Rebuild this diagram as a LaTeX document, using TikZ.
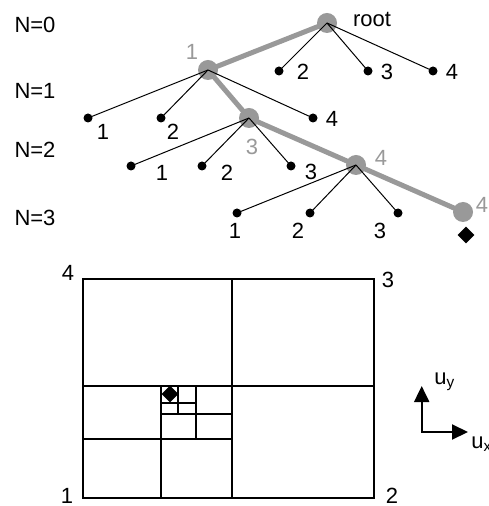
\documentclass[tikz,border=0pt]{standalone}
\usepackage{fontspec}
\setmainfont{Liberation Sans}
\usetikzlibrary{arrows.meta, positioning, shapes.geometric}
\definecolor{treegray}{RGB}{153,153,153}

\begin{document}
\begin{tikzpicture}[
  x=0.5pt, y=-0.5pt,
  lbl/.style={font=\fontsize{11}{13}\selectfont, inner sep=0pt},
  glbl/.style={lbl, text=treegray},
  leaf/.style={circle, fill=black, minimum size=4.5pt, inner sep=0pt},
  hub/.style={circle, fill=treegray, minimum size=10pt, inner sep=0pt},
  goal/.style={diamond, fill=black, minimum width=8.5pt, minimum height=8.5pt, inner sep=0pt},
  edge/.style={line width=0.5pt},
  route/.style={line width=2.5pt, treegray},
  cell/.style={line width=1pt},
  axis/.style={{Triangle[length=8pt, width=7.5pt]}-{Triangle[length=8pt, width=7.5pt]}, line width=1pt}
]
\useasboundingbox (0,0) rectangle (488,506);

% levels
\node[lbl] (lv0) at (35,25) {N=0};
\node[lbl] (lv1) at (35,91) {N=1};
\node[lbl] (lv2) at (35,150) {N=2};
\node[lbl] (lv3) at (35,218) {N=3};

% tree nodes
\node[hub] (root) at (327,23) {};
\node[hub] (n1) at (208,70) {};
\node[hub] (n13) at (249,118) {};
\node[hub] (n134) at (356,165) {};
\node[hub] (n1344) at (463,212) {};
\node[leaf] (r2) at (279,71) {};
\node[leaf] (r3) at (368,71) {};
\node[leaf] (r4) at (433,71) {};
\node[leaf] (a1) at (88,118) {};
\node[leaf] (a2) at (161,118) {};
\node[leaf] (a4) at (313,118) {};
\node[leaf] (b1) at (131,166) {};
\node[leaf] (b2) at (202,166) {};
\node[leaf] (b3) at (291,166) {};
\node[leaf] (c1) at (237,213) {};
\node[leaf] (c2) at (310,213) {};
\node[leaf] (c3) at (398,213) {};
\node[goal] (hit) at (466,235) {};

% tree labels
\node[lbl] (troot) at (372,20) {root};
\node[glbl] (tn1) at (192,52) {1};
\node[glbl] (tn13) at (252,147) {3};
\node[glbl] (tn134) at (381,158) {4};
\node[glbl] (tn1344) at (482,205) {4};
\node[lbl] (tr2) at (303,72) {2};
\node[lbl] (tr3) at (387,72) {3};
\node[lbl] (tr4) at (452,72) {4};
\node[lbl] (ta1) at (103,132) {1};
\node[lbl] (ta2) at (173,132) {2};
\node[lbl] (ta4) at (332,119) {4};
\node[lbl] (tb1) at (162,173) {1};
\node[lbl] (tb2) at (227,173) {2};
\node[lbl] (tb3) at (311,172) {3};
\node[lbl] (tc1) at (235,231) {1};
\node[lbl] (tc2) at (298,231) {2};
\node[lbl] (tc3) at (380,231) {3};

% path to the cell
\draw[route] (root.center) -- (n1.center) -- (n13.center) -- (n134.center) -- (n1344.center);

\draw[edge] (root.center) -- (r2.center);
\draw[edge] (root.center) -- (r3.center);
\draw[edge] (root.center) -- (r4.center);
\draw[edge] (n1.center) -- (a1.center);
\draw[edge] (n1.center) -- (a2.center);
\draw[edge] (n1.center) -- (a4.center);
\draw[edge] (n13.center) -- (b1.center);
\draw[edge] (n13.center) -- (b2.center);
\draw[edge] (n13.center) -- (b3.center);
\draw[edge] (n134.center) -- (c1.center);
\draw[edge] (n134.center) -- (c2.center);
\draw[edge] (n134.center) -- (c3.center);

% subdivided square
\coordinate (sw) at (83,498);
\coordinate (ne) at (374,279);
\draw[cell] (sw) rectangle (ne);
\draw[cell] (232,279) -- (232,498);
\draw[cell] (83,386) -- (374,386);
\draw[cell] (161,386) -- (161,498);
\draw[cell] (83,439) -- (232,439);
\draw[cell] (196,386) -- (196,439);
\draw[cell] (161,414) -- (232,414);
\draw[cell] (178,386) -- (178,414);
\draw[cell] (161,403) -- (196,403);
\node[goal] (cellhit) at (170,394) {};

\node[lbl] (c4) at (68,273) {4};
\node[lbl] (c3r) at (388,280) {3};
\node[lbl] (c1l) at (67,496) {1};
\node[lbl] (c2r) at (392,496) {2};

% axes
\coordinate (o) at (421.7,432);
\coordinate (uyend) at (421.7,386);
\coordinate (uxend) at (468,432);
\draw[axis] (uyend) |- (uxend);
\node[lbl, anchor=west] (uy) at (434,382) {u\textsubscript{y}};
\node[lbl, anchor=west] (ux) at (471,444) {u\textsubscript{x}};
\end{tikzpicture}
\end{document}
